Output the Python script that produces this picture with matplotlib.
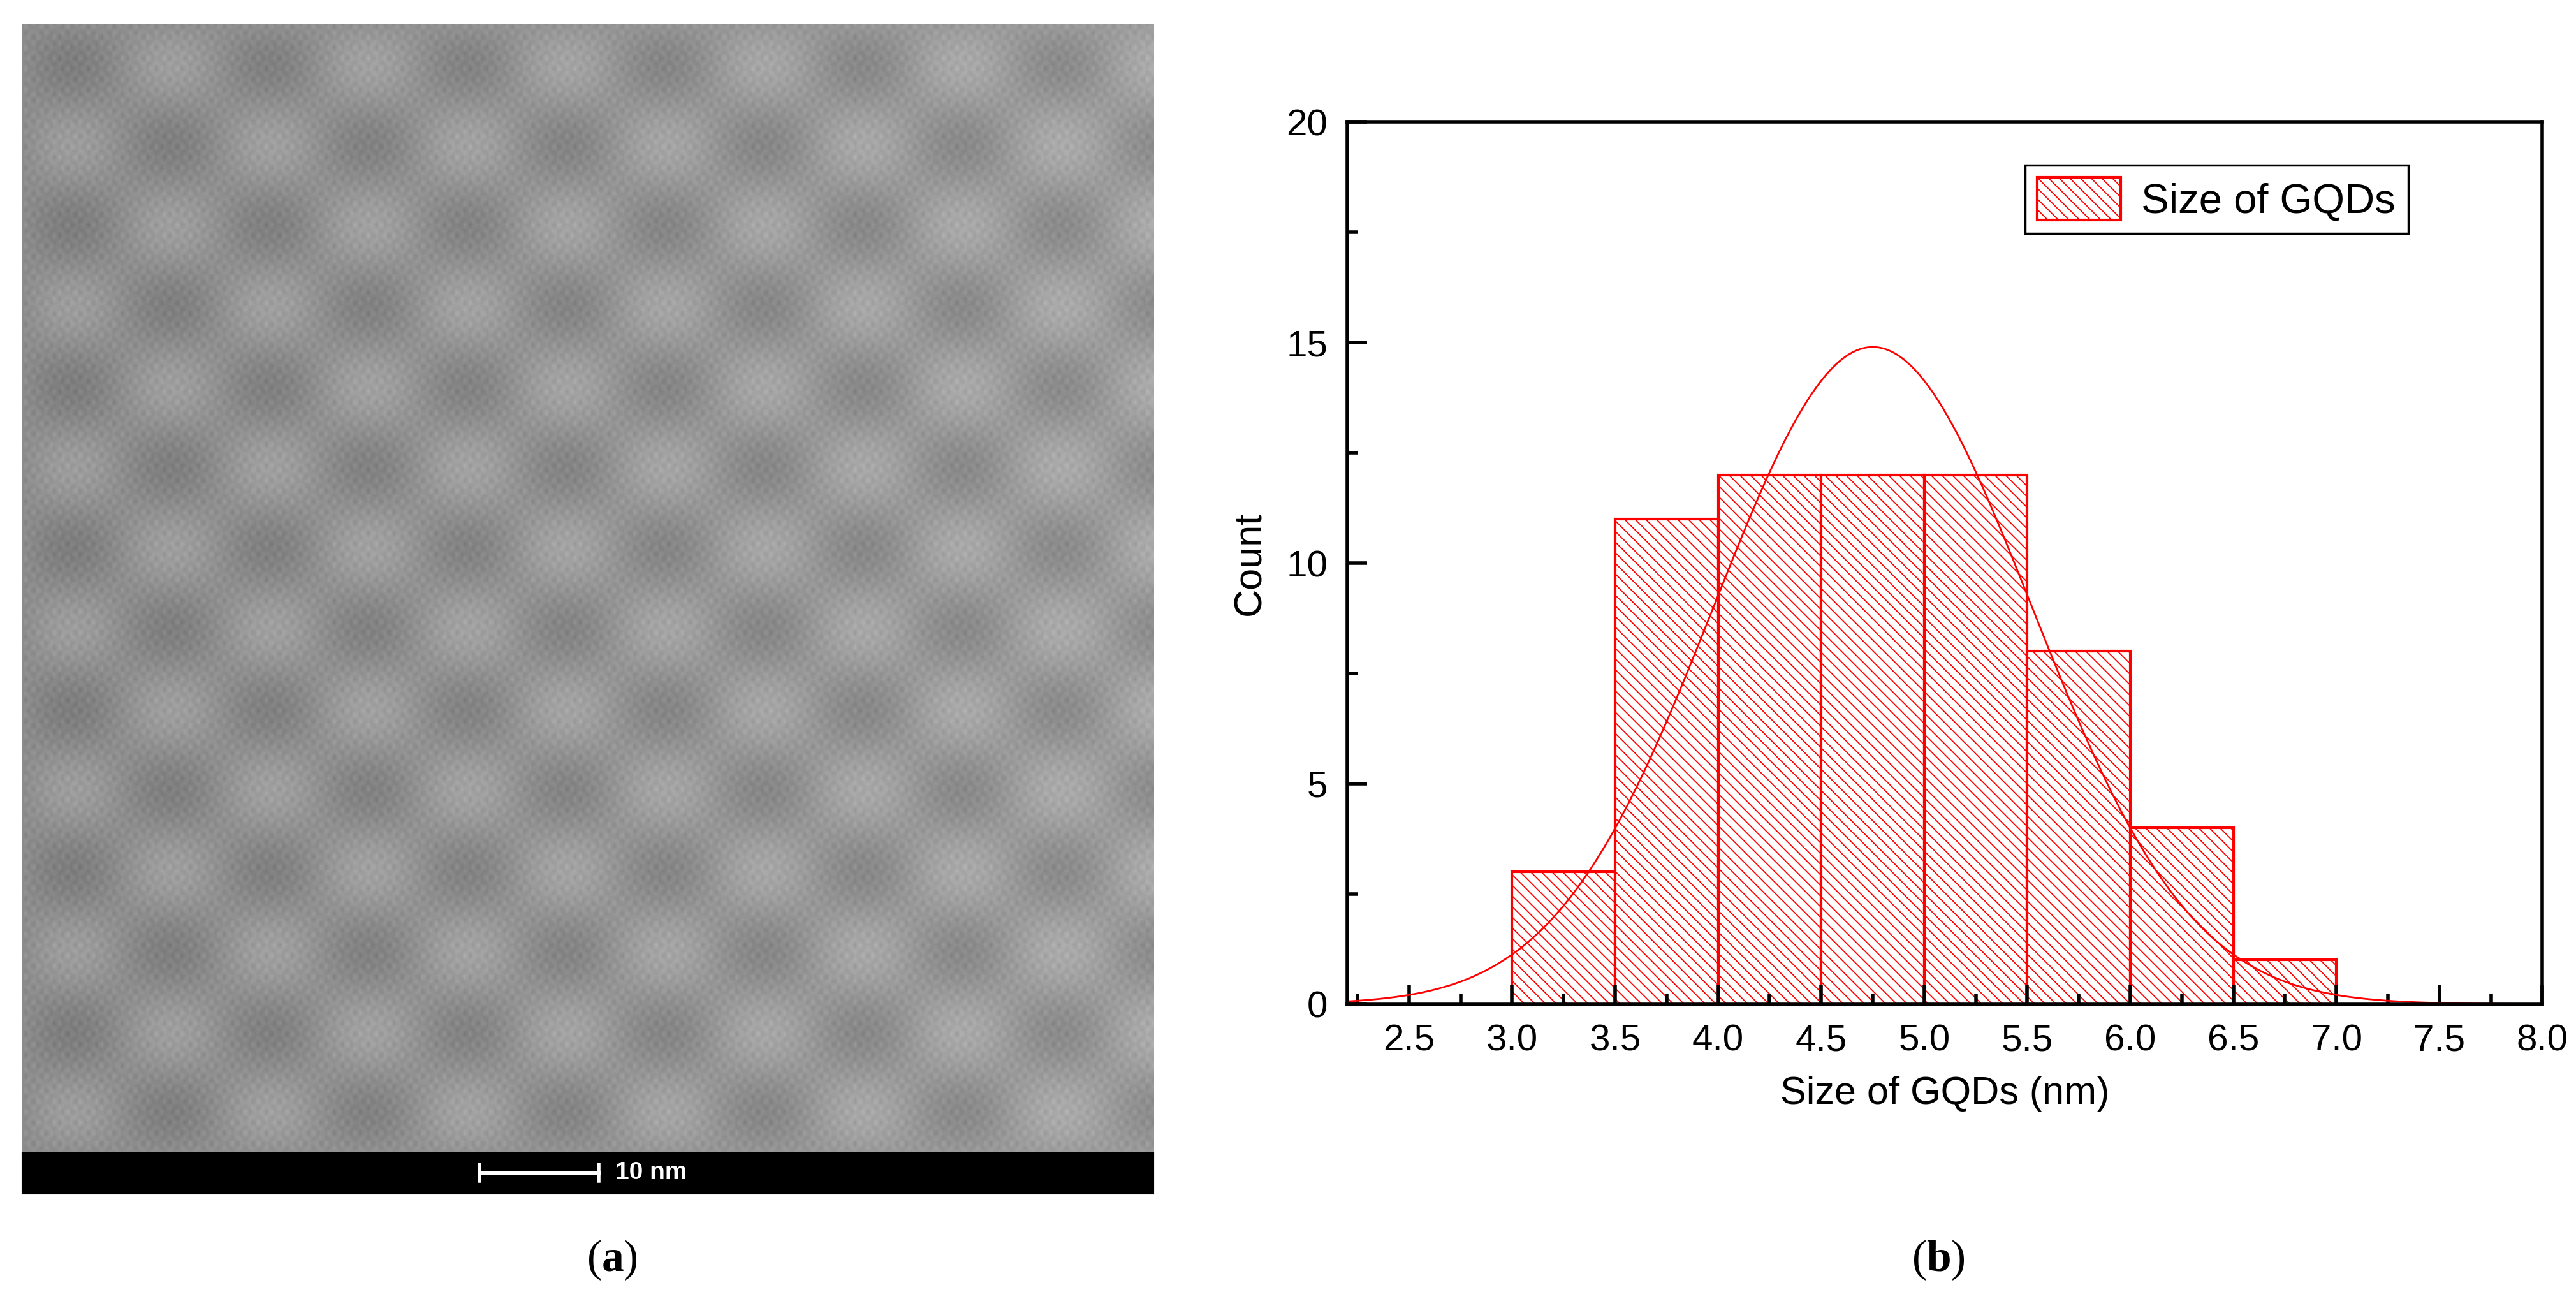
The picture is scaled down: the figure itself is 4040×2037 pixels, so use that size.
import numpy as np
import matplotlib
matplotlib.use("Agg")
import matplotlib.pyplot as plt

plt.rcParams['hatch.color'] = 'red'
plt.rcParams['hatch.linewidth'] = 1.3
plt.rcParams['mathtext.fontset'] = 'custom'
plt.rcParams['mathtext.bf'] = 'Liberation Serif:bold'
plt.rcParams['mathtext.rm'] = 'Liberation Serif'

bin_edges = [3.0, 3.5, 4.0, 4.5, 5.0, 5.5, 6.0, 6.5, 7.0]
counts = [3, 11, 12, 12, 12, 8, 4, 1]
fit_center = 4.75
fit_sigma = 0.77
fit_peak = 14.9
x_ticks = [2.5, 3.0, 3.5, 4.0, 4.5, 5.0, 5.5, 6.0, 6.5, 7.0, 7.5, 8.0]
y_ticks = [0, 5, 10, 15, 20]

fig = plt.figure(figsize=(40.40, 20.37), dpi=100)
font = 'Liberation Sans'

# Panel (a): TEM micrograph placeholder
axa = fig.add_axes([0.0083, 0.113, 0.4394, 0.869])
yy, xx = np.mgrid[0:400, 0:400]
tex = (0.55 + 0.03*np.sin(xx*1.3)*np.sin(yy*1.7) + 0.03*np.sin(xx*2.1)*np.cos(yy*0.8)
       - 0.06*np.sin(xx*0.09)*np.sin(yy*0.11) + 0.06*xx/400)
axa.imshow(tex, cmap='gray', vmin=0, vmax=1, aspect='auto', interpolation='bilinear')
axa.axis('off')
axb_bar = fig.add_axes([0.0083, 0.081, 0.4394, 0.032])
axb_bar.set_facecolor('black')
axb_bar.set_xlim(0, 1); axb_bar.set_ylim(0, 1)
axb_bar.set_xticks([]); axb_bar.set_yticks([])
axb_bar.plot([0.405, 0.510], [0.5, 0.5], color='white', lw=5)
axb_bar.plot([0.405, 0.405], [0.3, 0.7], color='white', lw=4)
axb_bar.plot([0.510, 0.510], [0.3, 0.7], color='white', lw=4)
axb_bar.text(0.525, 0.5, '10 nm', color='white', fontsize=28, fontweight='bold',
             va='center', ha='left', family=font)

# Panel (b): histogram
ax = fig.add_axes([0.523, 0.227, 0.464, 0.679])
widths = np.diff(bin_edges)
ax.bar(bin_edges[:-1], counts, width=widths, align='edge', facecolor='white',
       edgecolor='red', linewidth=3, hatch='\\\\', label='Size of GQDs')
xs = np.linspace(2.2, 8.0, 500)
ax.plot(xs, fit_peak*np.exp(-(xs-fit_center)**2/(2*fit_sigma**2)), color='red', lw=2)
ax.set_xlim(2.2, 8.0)
ax.set_ylim(0, 20)
ax.set_xticks(x_ticks)
ax.set_xticklabels([f'{v:.1f}' for v in x_ticks])
ax.set_yticks(y_ticks)
ax.set_xticks(np.arange(2.25, 8.0, 0.5), minor=True)
ax.set_yticks(np.arange(2.5, 20, 5), minor=True)
ax.tick_params(direction='in', which='major', length=22, width=4, labelsize=42, pad=22)
ax.tick_params(direction='in', which='minor', length=12, width=4)
for lab in ax.get_xticklabels() + ax.get_yticklabels():
    lab.set_family(font)
for s in ax.spines.values():
    s.set_linewidth(4)
ax.set_xlabel('Size of GQDs (nm)', fontsize=44, family=font, labelpad=20)
ax.set_ylabel('Count', fontsize=44, family=font, labelpad=20)
leg = ax.legend(loc='upper right', bbox_to_anchor=(0.905, 0.975),
                prop={'family': font, 'size': 47}, fancybox=False, edgecolor='black',
                framealpha=1, handlelength=2.0, handleheight=1.2, borderpad=0.3,
                handletextpad=0.5)
leg.get_frame().set_linewidth(2.5)

fig.text(0.2375, 0.03, r'($\mathbf{a}$)', fontsize=50, family='Liberation Serif', ha='center', va='center')
fig.text(0.7525, 0.03, r'($\mathbf{b}$)', fontsize=50, family='Liberation Serif', ha='center', va='center')

fig.savefig('out.png', dpi=100, facecolor='white')
